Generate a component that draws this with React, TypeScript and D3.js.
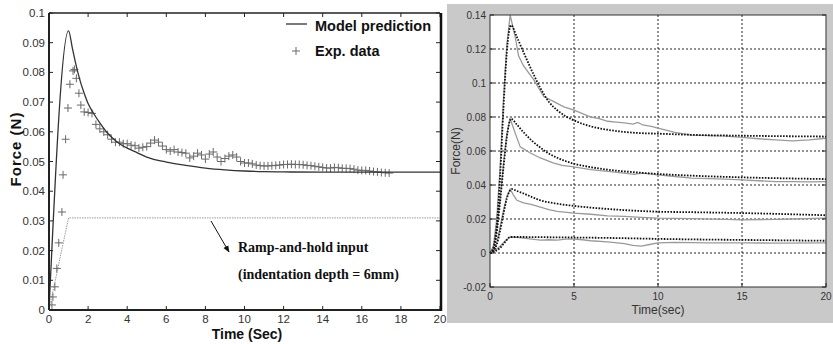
import React from 'react';
import * as d3 from 'd3';

// ---- left chart: single ramp-and-hold test ----
const leftYTicks = [0, 0.01, 0.02, 0.03, 0.04, 0.05, 0.06, 0.07, 0.08, 0.09, 0.1];
const leftXTicks = [0, 2, 4, 6, 8, 10, 12, 14, 16, 18, 20];

const modelTime = [0, 1, 1.2, 1.4, 1.6, 1.8, 2.0, 2.3, 2.6, 3.0, 3.5, 4.0, 4.5, 5, 6, 7, 8, 9, 10, 11, 12, 14, 17, 20];
const modelForce = [0, 0.094, 0.088, 0.082, 0.077, 0.073, 0.0695, 0.066, 0.063, 0.0595, 0.0565, 0.0545, 0.053, 0.0515, 0.0498, 0.0487, 0.0478, 0.0472, 0.0468, 0.0466, 0.0465, 0.0464, 0.0464, 0.0464];

const rampTime = [0, 1, 20];
const rampForce = [0, 0.031, 0.031];

const expTime = [
  0.15, 0.2, 0.3, 0.4, 0.5, 0.66, 0.72, 0.85, 0.97, 1.07, 1.23, 1.3, 1.4, 1.53, 1.63,
  1.8, 2.0, 2.2, 2.4, 2.6, 2.8, 3.0, 3.2, 3.4, 3.6, 3.8, 4.0, 4.2, 4.4, 4.6, 4.8,
  5.0, 5.2, 5.4, 5.6, 5.8, 6.0, 6.2, 6.4, 6.6, 6.8, 7.0, 7.2, 7.4, 7.6, 7.8, 8.0,
  8.2, 8.4, 8.6, 8.8, 9.0, 9.2, 9.4, 9.6, 9.8, 10.0, 10.2, 10.4, 10.6, 10.8, 11.0,
  11.2, 11.4, 11.6, 11.8, 12.0, 12.2, 12.4, 12.6, 12.8, 13.0, 13.2, 13.4, 13.6, 13.8,
  14.0, 14.2, 14.4, 14.6, 14.8, 15.0, 15.2, 15.4, 15.6, 15.8, 16.0, 16.2, 16.4, 16.6,
  16.8, 17.0, 17.2, 17.4
];
const expForce = [
  0.0017, 0.0044, 0.0078, 0.014, 0.0226, 0.033, 0.0455, 0.0575, 0.068, 0.076, 0.0805, 0.081, 0.078, 0.073, 0.069,
  0.0667, 0.0665, 0.0662, 0.0625, 0.061, 0.06, 0.059, 0.0575, 0.0565, 0.0565, 0.056, 0.056, 0.0555, 0.0553, 0.0545, 0.0548,
  0.055, 0.0562, 0.0572, 0.0565, 0.0552, 0.054, 0.0535, 0.054, 0.0532, 0.053, 0.0528, 0.0512, 0.0518, 0.0528, 0.0522, 0.0508,
  0.0525, 0.0532, 0.0515, 0.05, 0.051, 0.0518, 0.0522, 0.0515, 0.05, 0.0495, 0.0495, 0.0492, 0.0488, 0.0486, 0.0485,
  0.0485, 0.0486, 0.0487, 0.0488, 0.049, 0.049, 0.0491, 0.049, 0.049, 0.0489, 0.0487, 0.0486, 0.0484, 0.0482,
  0.048, 0.0478, 0.0478, 0.048, 0.0479, 0.0477, 0.0477, 0.0476, 0.0474, 0.0471, 0.047, 0.047, 0.0468, 0.0466,
  0.0465, 0.0463, 0.0462, 0.0461
];

// ---- right chart: four indentation depths ----
const rightYTicks = [-0.02, 0, 0.02, 0.04, 0.06, 0.08, 0.1, 0.12, 0.14];
const rightXTicks = [0, 5, 10, 15, 20];

const exp1: [number, number][] = [[0, 0], [0.2, 0.004], [0.4, 0.02], [0.6, 0.05], [0.8, 0.09], [1.0, 0.122], [1.2, 0.14], [1.5, 0.127], [1.7, 0.116], [2.0, 0.11], [2.6, 0.102], [3.2, 0.092], [3.8, 0.089], [4.4, 0.086], [5.0, 0.084], [6.0, 0.08], [6.5, 0.079], [7.0, 0.0775], [7.5, 0.077], [8.0, 0.0765], [8.5, 0.0758], [8.8, 0.0768], [9.1, 0.0753], [9.6, 0.0745], [10, 0.0735], [11, 0.071], [12, 0.0693], [13, 0.069], [14, 0.0688], [15, 0.068], [16, 0.0672], [17, 0.0665], [18, 0.066], [19, 0.0665], [20, 0.0675]];
const model1: [number, number][] = [[0, 0], [0.2, 0.003], [0.4, 0.016], [0.6, 0.045], [0.8, 0.085], [1.0, 0.118], [1.25, 0.134], [1.6, 0.127], [2.0, 0.118], [2.5, 0.107], [3.0, 0.097], [3.5, 0.089], [4.0, 0.084], [5.0, 0.078], [6.0, 0.0745], [7.0, 0.0725], [8.0, 0.0712], [9.0, 0.0705], [10, 0.0702], [12, 0.0695], [15, 0.069], [20, 0.0685]];
const exp2: [number, number][] = [[0, 0], [0.2, 0.003], [0.4, 0.014], [0.6, 0.032], [0.8, 0.052], [1.0, 0.07], [1.2, 0.079], [1.5, 0.0705], [1.8, 0.0624], [2.4, 0.0588], [3.0, 0.0559], [3.75, 0.053], [4.3, 0.0515], [5, 0.0506], [6, 0.049], [7, 0.048], [8, 0.047], [8.6, 0.0462], [9, 0.047], [9.5, 0.0465], [10, 0.046], [11, 0.045], [12, 0.044], [13, 0.0437], [14, 0.0435], [15, 0.043], [16, 0.0425], [17, 0.042], [18, 0.042], [19, 0.0418], [20, 0.042]];
const model2: [number, number][] = [[0, 0], [0.2, 0.002], [0.4, 0.012], [0.6, 0.03], [0.8, 0.05], [1.0, 0.068], [1.25, 0.079], [1.6, 0.0755], [2.0, 0.071], [2.5, 0.066], [3.0, 0.062], [3.5, 0.0585], [4.0, 0.056], [5.0, 0.0525], [6.0, 0.0505], [7.0, 0.049], [8.0, 0.048], [9.0, 0.0472], [10, 0.0465], [12, 0.0455], [15, 0.0445], [20, 0.0435]];
const exp3: [number, number][] = [[0, 0], [0.2, 0.001], [0.4, 0.006], [0.6, 0.015], [0.8, 0.025], [1.0, 0.033], [1.2, 0.0376], [1.4, 0.034], [1.6, 0.031], [2.0, 0.0295], [2.5, 0.0285], [3.0, 0.027], [3.5, 0.0255], [4.0, 0.0245], [5.0, 0.0235], [6.0, 0.0228], [7.0, 0.0218], [8.0, 0.0215], [9.0, 0.021], [10, 0.0205], [12, 0.0202], [14, 0.0198], [15, 0.0195], [17, 0.0198], [18, 0.02], [20, 0.0205]];
const model3: [number, number][] = [[0, 0], [0.2, 0.001], [0.4, 0.005], [0.6, 0.013], [0.8, 0.023], [1.0, 0.032], [1.3, 0.0376], [1.6, 0.0365], [2.0, 0.035], [3.0, 0.031], [4.0, 0.029], [5.0, 0.0277], [6.0, 0.0267], [7.0, 0.0259], [9.0, 0.0247], [10, 0.0243], [12, 0.024], [15, 0.0235], [20, 0.0222]];
const exp4: [number, number][] = [[0, 0], [0.3, 0.0015], [0.6, 0.004], [0.9, 0.007], [1.2, 0.0094], [1.6, 0.0092], [2.0, 0.0088], [2.5, 0.0082], [3.0, 0.0076], [3.5, 0.0078], [4, 0.0076], [4.5, 0.0082], [5, 0.0082], [5.5, 0.0078], [6, 0.0072], [7, 0.0065], [8, 0.0055], [8.5, 0.0045], [9, 0.0041], [9.5, 0.005], [10, 0.0059], [11, 0.0062], [12, 0.0061], [13, 0.006], [14, 0.006], [15, 0.006], [17, 0.0058], [20, 0.0059]];
const model4: [number, number][] = [[0, 0], [0.3, 0.001], [0.6, 0.003], [0.9, 0.0065], [1.2, 0.0094], [2, 0.0094], [4, 0.0092], [6, 0.009], [8, 0.0087], [10, 0.0083], [12, 0.008], [15, 0.0077], [20, 0.0072]];

const expSeries = [exp1, exp2, exp3, exp4];
const modelSeries = [model1, model2, model3, model4];

const sans = 'Arial, "Liberation Sans", Helvetica, sans-serif';
const serif = '"Times New Roman", "Liberation Serif", serif';

const LeftChart = () => {
  const x = d3.scaleLinear().domain([0, 20]).range([49, 440]);
  const y = d3.scaleLinear().domain([0, 0.1]).range([310, 13]);
  const line = d3.line<[number, number]>().x(d => x(d[0])).y(d => y(d[1]));
  const smooth = d3.line<[number, number]>().x(d => x(d[0])).y(d => y(d[1])).curve(d3.curveMonotoneX);

  const model = modelTime.map((t, i) => [t, modelForce[i]] as [number, number]);
  const ramp = rampTime.map((t, i) => [t, rampForce[i]] as [number, number]);
  const exp = expTime.map((t, i) => [t, expForce[i]] as [number, number]);

  const plus = (cx: number, cy: number, k: string | number) => (
    <path key={k} d={`M${cx - 4},${cy}H${cx + 4}M${cx},${cy - 4}V${cy + 4}`} stroke="#6a6a6a" strokeWidth={1} fill="none" />
  );

  return (
    <g>
      <rect x={0} y={0} width={444} height={344} fill="#fff" />
      {/* ramp input */}
      <path d={line(ramp) || ''} fill="none" stroke="#999" strokeWidth={1} strokeDasharray="1.5,1" />
      {/* experimental data */}
      {exp.map((d, i) => plus(x(d[0]), y(d[1]), i))}
      {/* model */}
      <path d={smooth(model) || ''} fill="none" stroke="#333" strokeWidth={1.3} />

      {/* ticks */}
      {leftYTicks.map(t => (
        <g key={'y' + t}>
          <line x1={49} x2={53} y1={y(t)} y2={y(t)} stroke="#222" />
          <line x1={436} x2={440} y1={y(t)} y2={y(t)} stroke="#222" />
          <text x={45} y={y(t)} dy="0.35em" textAnchor="end" fontSize={11.5} fontFamily={sans} fill="#333">{t}</text>
        </g>
      ))}
      {leftXTicks.map(t => (
        <g key={'x' + t}>
          <line x1={x(t)} x2={x(t)} y1={310} y2={306} stroke="#222" />
          <line x1={x(t)} x2={x(t)} y1={13} y2={17} stroke="#222" />
          <text x={x(t)} y={323} textAnchor="middle" fontSize={11.5} fontFamily={sans} fill="#333">{t}</text>
        </g>
      ))}
      {/* frame */}
      <line x1={49} x2={440} y1={13} y2={13} stroke="#222" strokeWidth={1.3} />
      <line x1={49} x2={440} y1={310} y2={310} stroke="#222" strokeWidth={2} />
      <line x1={49} x2={49} y1={13} y2={310} stroke="#222" strokeWidth={2} />
      <line x1={441} x2={441} y1={13} y2={311} stroke="#111" strokeWidth={2.5} />

      {/* legend */}
      <line x1={286} x2={307} y1={24} y2={24} stroke="#333" strokeWidth={1.3} />
      <text x={315} y={31} fontSize={14.5} fontWeight="bold" fontFamily={sans} fill="#111">Model prediction</text>
      {plus(296, 51, 'lg')}
      <text x={315} y={56} fontSize={14.5} fontWeight="bold" fontFamily={sans} fill="#111">Exp. data</text>

      {/* annotation */}
      <defs>
        <marker id="arr" viewBox="0 0 10 10" refX={9} refY={5} markerWidth={7} markerHeight={7} orient="auto">
          <path d="M0,1L10,5L0,9z" fill="#111" />
        </marker>
      </defs>
      <line x1={211} y1={221} x2={229} y2={252} stroke="#111" strokeWidth={1} markerEnd="url(#arr)" />
      <text x={238} y={252} fontSize={14} fontWeight="bold" fontFamily={serif} fill="#111">Ramp-and-hold input</text>
      <text x={238} y={279} fontSize={14} fontWeight="bold" fontFamily={serif} fill="#111">(indentation depth = 6mm)</text>

      {/* axis titles */}
      <text x={247} y={339} textAnchor="middle" fontSize={14} fontWeight="bold" fontFamily={sans} fill="#111">Time (Sec)</text>
      <text transform="translate(21,149) rotate(-90)" textAnchor="middle" fontSize={15} letterSpacing={1} fontWeight="bold" fontFamily={sans} fill="#111">Force (N)</text>
    </g>
  );
};

const RightChart = () => {
  const x = d3.scaleLinear().domain([0, 20]).range([490, 826]);
  const y = d3.scaleLinear().domain([-0.02, 0.14]).range([287, 15]);
  const line = d3.line<[number, number]>().x(d => x(d[0])).y(d => y(d[1]));
  const smooth = d3.line<[number, number]>().x(d => x(d[0])).y(d => y(d[1])).curve(d3.curveMonotoneX);

  return (
    <g>
      <rect x={447} y={4} width={386} height={319} fill="#c9c9c9" />
      <rect x={490} y={15} width={336} height={272} fill="#fff" />
      {/* grid */}
      {rightYTicks.filter(t => t > -0.02 && t < 0.14).map(t => (
        <line key={'gy' + t} x1={490} x2={826} y1={y(t)} y2={y(t)} stroke="#222" strokeWidth={1} strokeDasharray="2,2" />
      ))}
      {rightXTicks.filter(t => t > 0 && t < 20).map(t => (
        <line key={'gx' + t} x1={x(t)} x2={x(t)} y1={15} y2={287} stroke="#222" strokeWidth={1} strokeDasharray="2,2" />
      ))}
      {/* experiments */}
      {expSeries.map((s, i) => (
        <path key={'e' + i} d={line(s) || ''} fill="none" stroke="#9a9a9a" strokeWidth={1.3} />
      ))}
      {/* model */}
      {modelSeries.map((s, i) => (
        <path key={'m' + i} d={smooth(s) || ''} fill="none" stroke="#111" strokeWidth={1.8} strokeDasharray="1.6,1.4" />
      ))}
      {/* frame */}
      <rect x={490} y={15} width={336} height={272} fill="none" stroke="#333" strokeWidth={1} />
      {rightYTicks.map(t => (
        <g key={'ty' + t}>
          <line x1={490} x2={494} y1={y(t)} y2={y(t)} stroke="#222" />
          <line x1={822} x2={826} y1={y(t)} y2={y(t)} stroke="#222" />
          <text x={486} y={y(t)} dy="0.35em" textAnchor="end" fontSize={10} fontFamily={sans} fill="#333">{t}</text>
        </g>
      ))}
      {rightXTicks.map(t => (
        <g key={'tx' + t}>
          <line x1={x(t)} x2={x(t)} y1={287} y2={283} stroke="#222" />
          <text x={x(t)} y={300} textAnchor="middle" fontSize={10} fontFamily={sans} fill="#333">{t}</text>
        </g>
      ))}
      <text x={658} y={314} textAnchor="middle" fontSize={12} fontFamily={sans} fill="#333">Time(sec)</text>
      <text transform="translate(460,151) rotate(-90)" textAnchor="middle" fontSize={12} fontFamily={sans} fill="#333">Force(N)</text>
    </g>
  );
};

const App = () => (
  <svg width={833} height={344} style={{ position: 'absolute', left: 0, top: 0 }}>
    <rect width={833} height={344} fill="#fff" />
    <LeftChart />
    <RightChart />
  </svg>
);

export default App;
